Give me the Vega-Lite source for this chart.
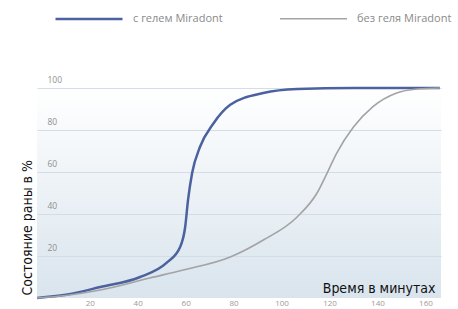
{
  "$schema": "https://vega.github.io/schema/vega-lite/v6.json",
  "autosize": {"type": "none"},
  "width": 404,
  "height": 210,
  "padding": {"left": 37, "top": 88, "right": 17, "bottom": 11},
  "background": "white",
  "config": {
    "view": {
      "stroke": null,
      "fill": {"gradient": "linear", "x1": 0, "y1": 0, "x2": 0, "y2": 1,
        "stops": [{"offset": 0, "color": "#ffffff"}, {"offset": 1, "color": "#d9e4ed"}]}
    }
  },
  "data": {"values": [
    {"t": -2, "v": 0, "s": "с гелем Miradont"},
    {"t": 10, "v": 1.5, "s": "с гелем Miradont"},
    {"t": 24.4, "v": 5.2, "s": "с гелем Miradont"},
    {"t": 41, "v": 10, "s": "с гелем Miradont"},
    {"t": 52, "v": 16.7, "s": "с гелем Miradont"},
    {"t": 57.7, "v": 24.3, "s": "с гелем Miradont"},
    {"t": 59.8, "v": 33.8, "s": "с гелем Miradont"},
    {"t": 61, "v": 46.7, "s": "с гелем Miradont"},
    {"t": 62.7, "v": 59.5, "s": "с гелем Miradont"},
    {"t": 66, "v": 72, "s": "с гелем Miradont"},
    {"t": 71.5, "v": 83, "s": "с гелем Miradont"},
    {"t": 78.6, "v": 92, "s": "с гелем Miradont"},
    {"t": 92.4, "v": 97.6, "s": "с гелем Miradont"},
    {"t": 106.5, "v": 99.5, "s": "с гелем Miradont"},
    {"t": 130, "v": 100, "s": "с гелем Miradont"},
    {"t": 166, "v": 100, "s": "с гелем Miradont"},
    {"t": -2, "v": 0, "s": "без геля Miradont"},
    {"t": 10, "v": 1.2, "s": "без геля Miradont"},
    {"t": 24.4, "v": 3.8, "s": "без геля Miradont"},
    {"t": 45, "v": 9.5, "s": "без геля Miradont"},
    {"t": 59, "v": 13.3, "s": "без геля Miradont"},
    {"t": 78.6, "v": 19.5, "s": "без геля Miradont"},
    {"t": 92.4, "v": 27.6, "s": "без геля Miradont"},
    {"t": 106.5, "v": 38.6, "s": "без геля Miradont"},
    {"t": 114.8, "v": 50, "s": "без геля Miradont"},
    {"t": 119, "v": 59.5, "s": "без геля Miradont"},
    {"t": 123, "v": 69, "s": "без геля Miradont"},
    {"t": 130, "v": 81.4, "s": "без геля Miradont"},
    {"t": 138, "v": 91, "s": "без геля Miradont"},
    {"t": 148, "v": 97.6, "s": "без геля Miradont"},
    {"t": 156.6, "v": 99.5, "s": "без геля Miradont"},
    {"t": 166, "v": 100, "s": "без геля Miradont"}
  ]},
  "mark": {"type": "line", "interpolate": "monotone"},
  "encoding": {
    "x": {
      "field": "t", "type": "quantitative",
      "scale": {"domain": [-2, 166.5], "nice": false, "zero": false},
      "axis": {
        "values": [20, 40, 60, 80, 100, 120, 140, 160],
        "grid": false, "ticks": false, "domain": false,
        "labelColor": "#9a9a9a", "labelFontSize": 8, "labelFont": "Open Sans",
        "labelPadding": 1,
        "title": "Время в минутах",
        "titleFont": "DejaVu Sans Condensed, Liberation Sans Narrow, Roboto", "titleFontSize": 14, "titleFontWeight": "normal",
        "titleColor": "#111111", "titleAlign": "right", "titleBaseline": "alphabetic",
        "titleX": 398, "titleY": -6
      }
    },
    "y": {
      "field": "v", "type": "quantitative",
      "scale": {"domain": [0, 100], "nice": false},
      "axis": {
        "values": [20, 40, 60, 80, 100],
        "grid": true, "gridColor": "#d3dde8", "gridWidth": 1,
        "ticks": false, "domain": false,
        "labelColor": "#8f8f8f", "labelFontSize": 8.5, "labelFont": "Open Sans",
        "labelAlign": "left", "labelBaseline": "bottom", "labelPadding": -10, "labelOffset": -4,
        "title": "Состояние раны в %",
        "titleFont": "DejaVu Sans Condensed, Liberation Sans Narrow, Roboto", "titleFontSize": 14, "titleFontWeight": "normal",
        "titleColor": "#111111", "titleAngle": -90,
        "titleBaseline": "alphabetic", "titleAlign": "left",
        "titleX": -6, "titleY": 207
      }
    },
    "color": {
      "field": "s", "type": "nominal",
      "scale": {"domain": ["с гелем Miradont", "без геля Miradont"], "range": ["#4b629e", "#a3a3a3"]},
      "legend": {
        "orient": "none", "direction": "horizontal", "title": null,
        "legendX": 17, "legendY": -104,
        "symbolType": "stroke", "symbolSize": 4489, "symbolStrokeWidth": 2.5,
        "labelOffset": 9, "columnPadding": 53,
        "labelFont": "Open Sans", "labelFontSize": 11, "labelColor": "#8a8a8a",
        "labelLimit": 300
      }
    },
    "strokeWidth": {
      "field": "s", "type": "nominal",
      "scale": {"domain": ["с гелем Miradont", "без геля Miradont"], "range": [2.5, 1.6]},
      "legend": null
    }
  }
}
